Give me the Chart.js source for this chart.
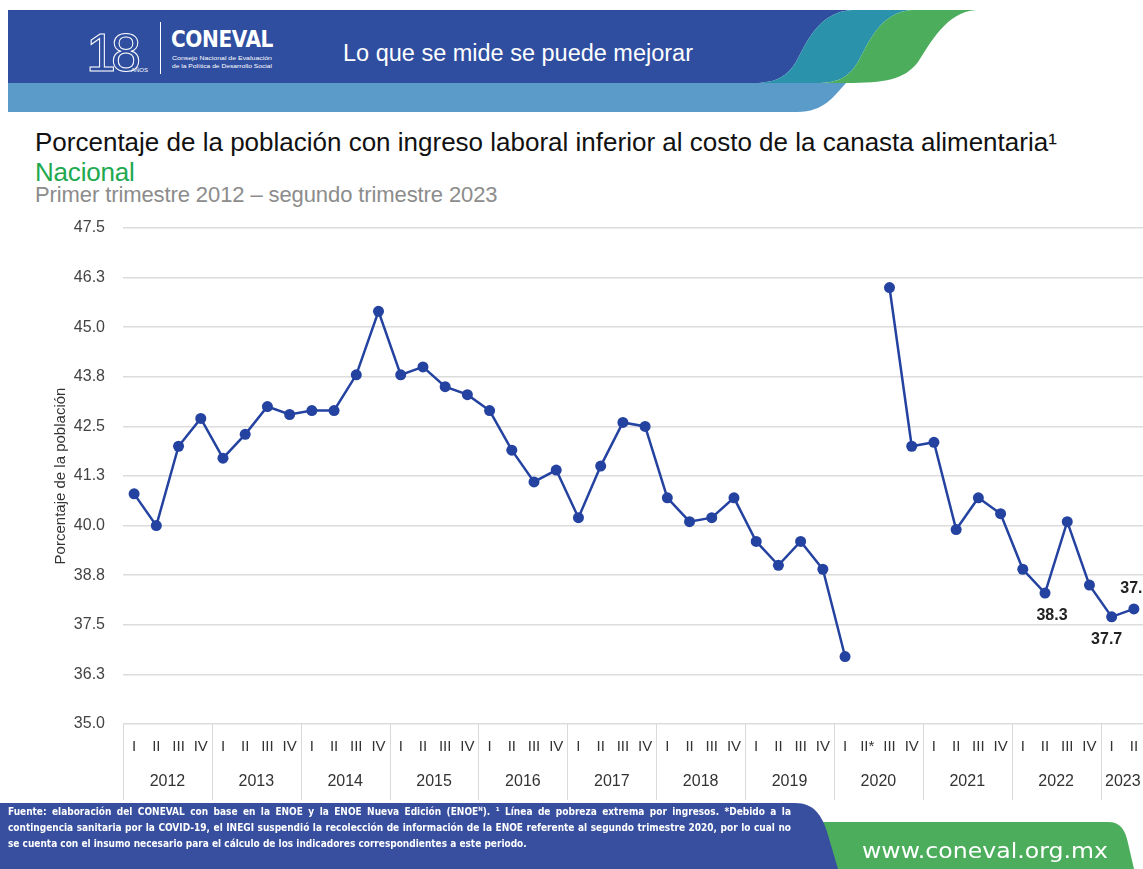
<!DOCTYPE html>
<html>
<head>
<meta charset="utf-8">
<script src="https://cdn.jsdelivr.net/npm/chart.js@4.4.0/dist/chart.umd.min.js"></script>
<style>
  html,body{margin:0;padding:0;}
  body{width:1143px;height:869px;overflow:hidden;position:relative;background:#fff;font-family:"Liberation Sans",Arial,sans-serif;}
  .abs{position:absolute;white-space:nowrap;}
  #title{left:35px;top:127px;font-size:26px;line-height:30px;color:#111;letter-spacing:0px;}
  #nac{left:35px;top:157px;font-size:26px;line-height:30px;color:#1ea94f;letter-spacing:-0.2px;}
  #sub{left:35px;top:182px;font-size:22px;line-height:26px;color:#8c8c8c;letter-spacing:-0.1px;}
  #wrap{position:absolute;left:0;top:200px;width:1160px;height:604px;}
  #foottext{position:absolute;left:8px;top:804px;width:783px;color:#fff;font-family:"Liberation Sans Narrow","DejaVu Sans Condensed","Liberation Sans",sans-serif;font-weight:bold;font-size:10px;line-height:16px;}
  #foottext .j{text-align:justify;text-align-last:justify;white-space:nowrap;}
</style>
</head>
<body>
<svg class="abs" style="left:0;top:0" width="1143" height="120">
  <path d="M8,83 H846 C 834,96 824,112 797,112 H8 Z" fill="#5a9bca"/>
  <path d="M8,10 H852 C 818,12 806,44 796,62 C 786,78 775,83 752,83 H8 Z" fill="#2f4ea0"/>
  <path d="M852,10 H912 C 880,12 868,44 858,62 C 848,78 838,83 816,83 H752 C 775,83 786,78 796,62 C 806,44 818,12 852,10 Z" fill="#2a93ab"/>
  <path d="M912,10 H976 C 946,12 930,44 918,62 C 904,80 885,83 846,83 H816 C 838,83 848,78 858,62 C 868,44 880,12 912,10 Z" fill="#4cae5c"/>
  <text x="86" y="71" font-family="Liberation Sans, Arial" font-size="54" fill="none" stroke="#fff" stroke-width="1" letter-spacing="-5">18</text>
  <text x="131" y="72" font-family="Liberation Sans, Arial" font-size="6" fill="#fff">AÑOS</text>
  <line x1="160.5" y1="22" x2="160.5" y2="74" stroke="#fff" stroke-width="1"/>
  <text x="171" y="47" font-family="DejaVu Sans, sans-serif" font-weight="bold" font-size="23" fill="#fff" letter-spacing="-0.5" textLength="102" lengthAdjust="spacingAndGlyphs">CONEVAL</text>
  <text x="172" y="60" font-family="Liberation Sans, Arial" font-size="5.5" fill="#fff" textLength="100" lengthAdjust="spacingAndGlyphs">Consejo Nacional de Evaluación</text>
  <text x="172" y="68" font-family="Liberation Sans, Arial" font-size="5.5" fill="#fff" textLength="100" lengthAdjust="spacingAndGlyphs">de la Política de Desarrollo Social</text>
  <text x="343" y="61" font-family="Liberation Sans, Arial" font-size="23" fill="#fff" textLength="350" lengthAdjust="spacingAndGlyphs">Lo que se mide se puede mejorar</text>
</svg>

<div id="title" class="abs">Porcentaje de la población con ingreso laboral inferior al costo de la canasta alimentaria¹</div>
<div id="nac" class="abs">Nacional</div>
<div id="sub" class="abs">Primer trimestre 2012 – segundo trimestre 2023</div>

<div id="wrap"><canvas id="c"></canvas></div>

<svg class="abs" style="left:0;top:795px" width="1143" height="74">
  <path d="M790,27 H1108 C 1120,27 1125,34 1128,48 L 1134,74 H790 Z" fill="#4cae5c"/>
  <path d="M0,8 H795 C 814,8 822,20 828,40 L 838,74 H0 Z" fill="#374f9e"/>
  <text x="862" y="63" font-family="DejaVu Sans, sans-serif" font-size="22" fill="#fff" textLength="246" lengthAdjust="spacingAndGlyphs">www.coneval.org.mx</text>
</svg>
<div id="foottext">
  <div class="j">Fuente: elaboración del CONEVAL con base en la ENOE y la ENOE Nueva Edición (ENOE<sup style="font-size:6px;line-height:0">N</sup>). ¹ Línea de pobreza extrema por ingresos. *Debido a la</div>
  <div class="j">contingencia sanitaria por la COVID-19, el INEGI suspendió la recolección de información de la ENOE referente al segundo trimestre 2020, por lo cual no</div>
  <div>se cuenta con el insumo necesario para el cálculo de los indicadores correspondientes a este periodo.</div>
</div>

<script>
const quarterLabels = [
  'I','II','III','IV', 'I','II','III','IV', 'I','II','III','IV', 'I','II','III','IV',
  'I','II','III','IV', 'I','II','III','IV', 'I','II','III','IV', 'I','II','III','IV',
  'I','II*','III','IV', 'I','II','III','IV', 'I','II','III','IV', 'I','II'
];
const years = ['2012','2013','2014','2015','2016','2017','2018','2019','2020','2021','2022','2023'];
const quartersPerYear = [4,4,4,4,4,4,4,4,4,4,4,2];
const values = [
  40.8, 40.0, 42.0, 42.7,
  41.7, 42.3, 43.0, 42.8,
  42.9, 42.9, 43.8, 45.4,
  43.8, 44.0, 43.5, 43.3,
  42.9, 41.9, 41.1, 41.4,
  40.2, 41.5, 42.6, 42.5,
  40.7, 40.1, 40.2, 40.7,
  39.6, 39.0, 39.6, 38.9,
  36.7, null, 46.0, 42.0,
  42.1, 39.9, 40.7, 40.3,
  38.9, 38.3, 40.1, 38.5,
  37.7, 37.9
];
const yTickMin = 35.0, yTickMax = 47.5, yTickStep = 1.25;
const labelledPoints = [41, 44, 45];

const FONT = '"Liberation Sans", Arial, sans-serif';

const yearGroups = {
  id: 'yearGroups',
  afterDraw(chart) {
    const x = chart.scales.x, ctx = chart.ctx, ca = chart.chartArea;
    const slot = x.getPixelForValue(1) - x.getPixelForValue(0);
    let idx = 0;
    ctx.save();
    ctx.strokeStyle = '#d9d9d9';
    ctx.lineWidth = 1;
    ctx.fillStyle = '#333';
    ctx.font = '16px ' + FONT;
    ctx.textAlign = 'center';
    ctx.textBaseline = 'middle';
    years.forEach((yr, i) => {
      const n = quartersPerYear[i];
      const l = x.getPixelForValue(idx) - slot / 2;
      const r = x.getPixelForValue(idx + n - 1) + slot / 2;
      const lx = Math.round(l) + 0.5;
      ctx.beginPath();
      ctx.moveTo(lx, ca.bottom);
      ctx.lineTo(lx, ca.bottom + 76);
      ctx.stroke();
      ctx.fillText(yr, (l + r) / 2, ca.bottom + 58);
      idx += n;
    });
    ctx.restore();
  }
};

const pointLabels = {
  id: 'pointLabels',
  afterDatasetsDraw(chart) {
    const meta = chart.getDatasetMeta(0), ctx = chart.ctx;
    ctx.save();
    ctx.fillStyle = '#222';
    ctx.font = 'bold 16px ' + FONT;
    ctx.textAlign = 'center';
    ctx.textBaseline = 'middle';
    labelledPoints.forEach((i, k) => {
      const p = meta.data[i];
      const v = values[i];
      const above = k === labelledPoints.length - 1;
      const dx = k === 0 ? 7 : (k === 1 ? -5 : 2);
      ctx.fillText(v.toFixed(1), p.x + dx, above ? p.y - 20 : p.y + 23);
    });
    ctx.restore();
  }
};

new Chart(document.getElementById('c'), {
  type: 'line',
  data: {
    labels: quarterLabels,
    datasets: [{
      data: values,
      borderColor: '#2442a0',
      backgroundColor: '#2442a0',
      borderWidth: 2.5,
      pointRadius: 5.5,
      pointHoverRadius: 5.5,
      pointBackgroundColor: '#2442a0',
      pointBorderWidth: 0,
      tension: 0,
      spanGaps: false
    }]
  },
  options: {
    responsive: true,
    maintainAspectRatio: false,
    animation: false,
    events: [],
    layout: { padding: { left: 0, right: 15, top: 28, bottom: 0 } },
    plugins: { legend: { display: false }, tooltip: { enabled: false } },
    scales: {
      x: {
        type: 'category',
        offset: true,
        grid: { display: false, drawTicks: false },
        border: { display: false },
        ticks: { color: '#333', font: { family: FONT, size: 15 }, padding: 14, autoSkip: false, maxRotation: 0 },
        afterFit(s) { s.height = 80; }
      },
      y: {
        min: yTickMin,
        max: yTickMax,
        grid: { color: '#dcdcdc', lineWidth: 1.5, drawTicks: false },
        border: { display: false },
        ticks: {
          stepSize: yTickStep,
          color: '#444',
          padding: 18,
          font: { family: FONT, size: 16 },
          callback: v => Number(v).toFixed(1)
        },
        title: {
          display: true,
          text: 'Porcentaje de la población',
          color: '#333',
          font: { family: FONT, size: 15 },
          padding: { top: 52, bottom: 0 }
        },
        afterFit(s) { s.width = 123; }
      }
    }
  },
  plugins: [yearGroups, pointLabels]
});
</script>
</body>
</html>
